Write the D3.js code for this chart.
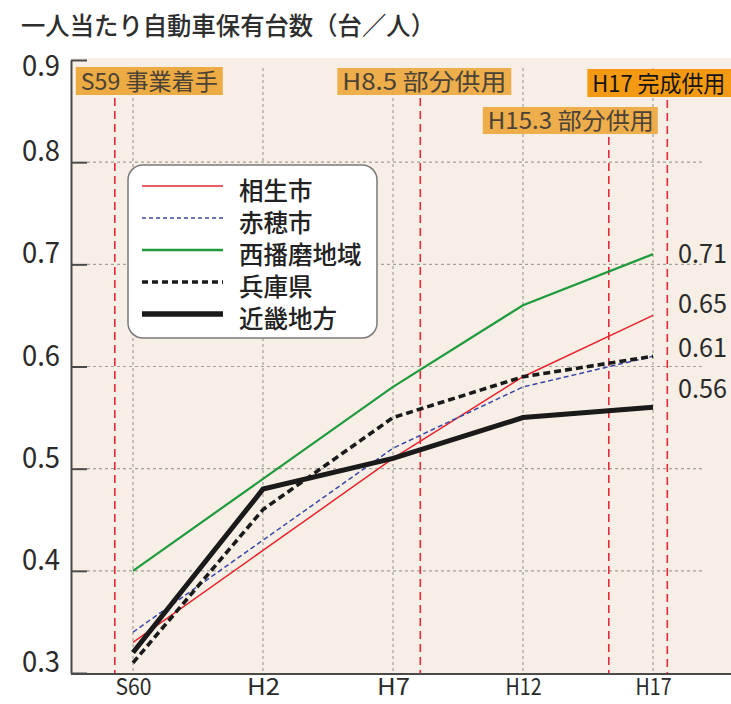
<!DOCTYPE html>
<html>
<head>
<meta charset="utf-8">
<script src="https://cdn.jsdelivr.net/npm/d3@7"></script>
<style>
  body { margin: 0; background: #ffffff; }
  svg { display: block; }
  text { font-family: "Noto Sans CJK JP", "Noto Sans", sans-serif; }
</style>
</head>
<body>
<svg id="chart" width="731" height="704"></svg>
<script>
// ---- data -------------------------------------------------------------
const title = "一人当たり自動車保有台数（台／人）";
const categories = ["S60", "H2", "H7", "H12", "H17"];
const categoryYears = [1985, 1990, 1995, 2000, 2005];
const yTicks = [0.3, 0.4, 0.5, 0.6, 0.7, 0.8, 0.9];
const yTickLabels = ["0.3", "0.4", "0.5", "0.6", "0.7", "0.8", "0.9"];

const seriesNames = ["相生市", "赤穂市", "西播磨地域", "兵庫県", "近畿地方"];
const aioi        = [0.33, 0.42, 0.51, 0.59, 0.65];
const ako         = [0.34, 0.43, 0.52, 0.58, 0.61];
const nishiHarima = [0.40, 0.49, 0.58, 0.66, 0.71];
const hyogo       = [0.31, 0.46, 0.55, 0.59, 0.61];
const kinki       = [0.32, 0.48, 0.51, 0.55, 0.56];

const endValues = [0.71, 0.65, 0.61, 0.56];
const endLabels = ["0.71", "0.65", "0.61", "0.56"];

const eventNames = ["S59 事業着手", "H8.5 部分供用", "H15.3 部分供用", "H17 完成供用"];
const eventYears = [1984.3, 1996.05, 2003.3, 2005.55];

// ---- layout & styles ----------------------------------------------------
const plot = { left: 71, right: 731, top: 58, bottom: 674 };

const svg = d3.select("#chart");

const x = d3.scaleLinear().domain([1985, 2005]).range([133, 653]);
const y = d3.scaleLinear().domain([0.3, 0.9]).range([673, 60]);

const seriesData = [aioi, ako, nishiHarima, hyogo, kinki];
const seriesStyle = [
  { color: "#e8232d", width: 1.5, dash: null },
  { color: "#3b47a8", width: 1.5, dash: "5,3" },
  { color: "#1f9a3c", width: 2.2, dash: null },
  { color: "#1a1a1a", width: 3.6, dash: "7,4" },
  { color: "#1a1a1a", width: 5, dash: null }
];

// title
svg.append("text")
  .attr("x", 21).attr("y", 35)
  .attr("font-size", 25).attr("font-weight", 500)
  .attr("fill", "#2e2e2e")
  .attr("textLength", 414)
  .attr("lengthAdjust", "spacingAndGlyphs")
  .text(title);

// plot background
svg.append("rect")
  .attr("x", plot.left).attr("y", plot.top)
  .attr("width", plot.right - plot.left).attr("height", plot.bottom - plot.top)
  .attr("fill", "#f7efe6");

// horizontal grid
svg.append("g").selectAll("line")
  .data(yTicks.filter(v => v > 0.3 && v < 0.9))
  .join("line")
  .attr("x1", 87).attr("x2", 702)
  .attr("y1", d => y(d)).attr("y2", d => y(d))
  .attr("stroke", "#a59f99").attr("stroke-width", 1.2)
  .attr("stroke-dasharray", "3,3");

// vertical grid at each survey year
svg.append("g").selectAll("line")
  .data(categoryYears)
  .join("line")
  .attr("x1", d => x(d)).attr("x2", d => x(d))
  .attr("y1", 68).attr("y2", y(0.3))
  .attr("stroke", "#a59f99").attr("stroke-width", 1.2)
  .attr("stroke-dasharray", "3,3");

// event markers (opening milestones)
const eventLayout = [
  { dx: -39, top: 67, w: 147, h: 28, fill: "#eca535", op: 0.92, text: "#4b4237", fs: 23, tl: 137 },
  { dx: -83, top: 68, w: 174, h: 27, fill: "#eca535", op: 0.88, text: "#4b4237", fs: 23, tl: 164 },
  { dx: -126, top: 107, w: 175, h: 27, fill: "#eca535", op: 0.88, text: "#4b4237", fs: 23, tl: 166 },
  { dx: -80, top: 69, w: 160, h: 28, fill: "#f49a12", op: 1, text: "#141414", fs: 23, tl: 133 }
];

const events = eventNames.map((name, i) => ({ name, year: eventYears[i], ...eventLayout[i] }));

svg.append("g").selectAll("line")
  .data(events)
  .join("line")
  .attr("x1", d => x(d.year)).attr("x2", d => x(d.year))
  .attr("y1", d => d.top + d.h + 3).attr("y2", y(0.3))
  .attr("stroke", "#e8283c").attr("stroke-width", 1.6)
  .attr("stroke-dasharray", "8,5");

const evG = svg.append("g").selectAll("g")
  .data(events)
  .join("g")
  .attr("transform", d => `translate(${x(d.year) + d.dx},${d.top})`);
evG.append("rect")
  .attr("width", d => d.w).attr("height", d => d.h)
  .attr("fill", d => d.fill).attr("opacity", d => d.op);
evG.append("text")
  .attr("x", 5).attr("y", d => d.h - 5)
  .attr("font-size", d => d.fs)
  .attr("fill", d => d.text)
  .attr("textLength", d => d.tl)
  .attr("lengthAdjust", "spacingAndGlyphs")
  .text(d => d.name);

// left axis
const yAxis = d3.axisLeft(y)
  .tickValues(yTicks)
  .tickSize(-16)
  .tickSizeOuter(0)
  .tickFormat("");
const yAxisG = svg.append("g")
  .attr("transform", `translate(${plot.left},0)`)
  .call(yAxis);
yAxisG.selectAll("path, line").attr("stroke", "#4a4a4a").attr("stroke-width", 2);

// y tick labels
svg.append("g").selectAll("text")
  .data(yTicks)
  .join("text")
  .attr("x", 60)
  .attr("y", d => Math.max(y(d) - 11, 66) + 10)
  .attr("text-anchor", "end")
  .attr("font-size", 29)
  .attr("fill", "#2a2a2a")
  .attr("textLength", 38)
  .attr("lengthAdjust", "spacingAndGlyphs")
  .text((d, i) => yTickLabels[i]);

// bottom axis
svg.append("line")
  .attr("x1", plot.left).attr("x2", plot.right)
  .attr("y1", plot.bottom).attr("y2", plot.bottom)
  .attr("stroke", "#4a4a4a").attr("stroke-width", 2);

const xAxis = d3.axisBottom(x)
  .tickValues(categoryYears)
  .tickSize(0)
  .tickFormat((d, i) => categories[i]);
const xAxisG = svg.append("g")
  .attr("transform", `translate(0,${plot.bottom})`)
  .call(xAxis);
xAxisG.select(".domain").remove();
xAxisG.selectAll("text")
  .attr("y", 21)
  .attr("dy", null)
  .attr("font-size", 23)
  .attr("font-family", "\"Noto Sans CJK JP\", sans-serif")
  .attr("fill", "#2a2a2a")
  .attr("textLength", (d, i) => categories[i].length > 2 ? 36 : 33)
  .attr("lengthAdjust", "spacingAndGlyphs");

// series lines
const line = d3.line()
  .x((d, i) => x(categoryYears[i]))
  .y(d => y(d));

svg.append("g").selectAll("path")
  .data(seriesData.map((d, i) => i))
  .join("path")
  .attr("d", i => line(seriesData[i]))
  .attr("fill", "none")
  .attr("stroke", i => seriesStyle[i].color)
  .attr("stroke-width", i => seriesStyle[i].width)
  .attr("stroke-dasharray", i => seriesStyle[i].dash)
  .attr("stroke-linejoin", "miter");

// end-of-series value labels
const endOffsets = [-1, -12, -9, -19];
svg.append("g").selectAll("text")
  .data(endValues)
  .join("text")
  .attr("x", 678)
  .attr("y", (d, i) => y(d) + endOffsets[i] + 10)
  .attr("font-size", 26)
  .attr("fill", "#2a2a2a")
  .attr("textLength", 49)
  .attr("lengthAdjust", "spacingAndGlyphs")
  .text((d, i) => endLabels[i]);

// legend
const legend = svg.append("g");
legend.append("rect")
  .attr("x", 128).attr("y", 165)
  .attr("width", 249).attr("height", 173)
  .attr("rx", 15).attr("ry", 15)
  .attr("fill", "#ffffff")
  .attr("stroke", "#7a7a7a").attr("stroke-width", 1.5);

const legendRowY = d3.scaleLinear().domain([0, 4]).range([186, 314]);
const legendStyle = [
  { width: 1.5, dash: null },
  { width: 1.5, dash: "4,3" },
  { width: 2.5, dash: null },
  { width: 3.5, dash: "6,4" },
  { width: 5.5, dash: null }
];
const rows = legend.selectAll("g.row")
  .data(seriesNames)
  .join("g")
  .attr("class", "row")
  .attr("transform", (d, i) => `translate(0,${legendRowY(i)})`);
rows.append("line")
  .attr("x1", 142).attr("x2", 223)
  .attr("stroke", (d, i) => seriesStyle[i].color)
  .attr("stroke-width", (d, i) => legendStyle[i].width)
  .attr("stroke-dasharray", (d, i) => legendStyle[i].dash);
rows.append("text")
  .attr("x", 239).attr("y", 14)
  .attr("font-size", 24.5)
  .attr("font-weight", 500)
  .attr("fill", "#222222")
  .text(d => d);
</script>
</body>
</html>
